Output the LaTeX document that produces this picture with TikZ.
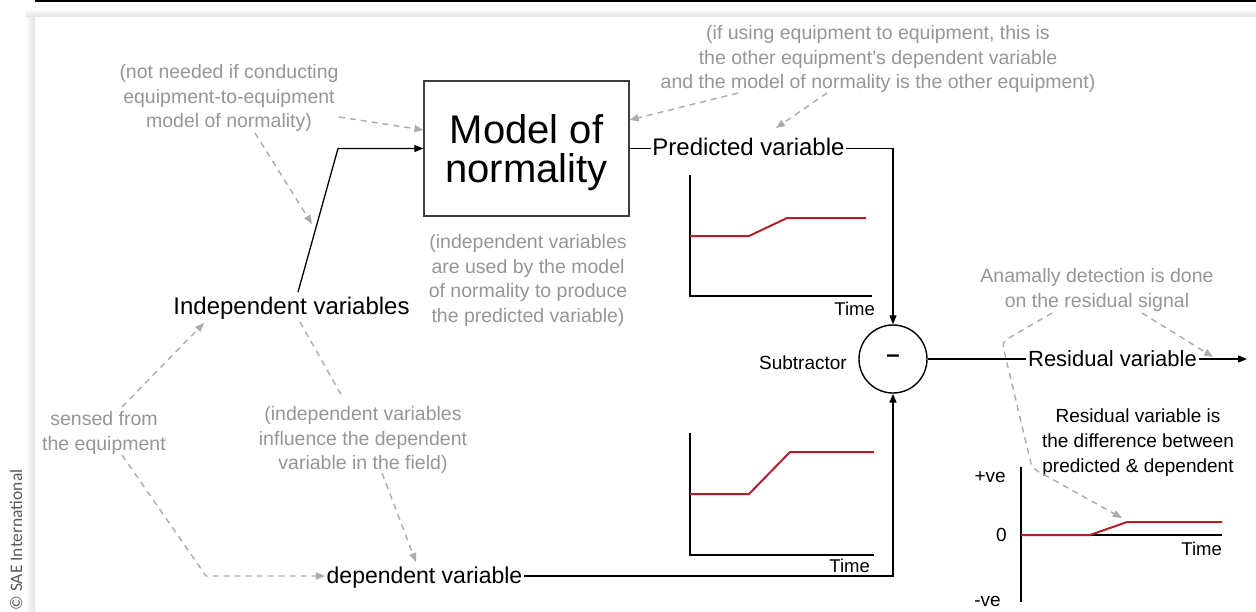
\documentclass[tikz,border=0pt]{standalone}
\usepackage{fontspec}
\setmainfont{Liberation Sans}
\newfontfamily\capfont{Carlito}
\usetikzlibrary{arrows.meta,calc}

\definecolor{notegray}{RGB}{150,150,150}
\definecolor{dashgray}{RGB}{172,172,172}
\definecolor{curvered}{RGB}{178,32,44}
\definecolor{boxline}{RGB}{60,60,60}

\newcommand\fsz[2]{\fontsize{#1}{#2}\selectfont}

\begin{document}
\begin{tikzpicture}[x=1pt,y=-1pt,
  label/.style={inner sep=1.5pt, text height=19pt, text depth=5pt, font=\fsz{24}{28}},
  note/.style={inner sep=0pt, align=center, text=notegray, font=\fsz{19.5}{24.7}, anchor=north},
  small/.style={inner sep=0pt, font=\fsz{19}{25}},
  timelbl/.style={inner sep=0pt, font=\fsz{18.5}{22}, anchor=base east},
  conn/.style={line width=1.3pt, black},
  arr/.style={conn, -{Triangle[length=9pt,width=7pt]}},
  hint/.style={line width=1.4pt, dashgray, dash pattern=on 6pt off 5pt},
  hintarr/.style={hint, -{Triangle[length=9pt,width=7pt]}},
  axis/.style={line width=2pt, black},
  signal/.style={line width=2pt, curvered, line join=round},
]
\useasboundingbox (0,0) rectangle (1256,611);

% page frame: rule at the top, panel with a soft shadow
\fill[white] (0,0) rectangle (1256,611);
\shade[top color=white, bottom color=black!12] (26,9) rectangle (1256,17);
\shade[left color=white, right color=black!12] (26,17) rectangle (35,611);
\fill[white] (35,17) rectangle (1256,611);
\draw[line width=2.2pt] (35,1.1) -- (1256,1.1);

\node[rotate=90, inner sep=0pt, font=\capfont\fsz{17.5}{20}, text=black!65] (copy) at (16,540) {© SAE International};

% main blocks
\node[draw=boxline, line width=1.2pt, minimum width=205pt, minimum height=135pt,
      inner sep=0pt, align=center, font=\fsz{40}{39}, text depth=0pt] (mon) at (526.5,148.5) {Model of\\normality};
\node[label] (iv) at (291.5,307.8) {Independent variables};
\node[label] (pv) at (748.5,148.5) {Predicted variable};
\node[label, font=\fsz{23}{28}] (dv) at (424.5,576) {dependent variable};
\node[label, font=\fsz{22}{26}] (rv) at (1112.5,359) {Residual variable};
\node[circle, draw, line width=1.4pt, minimum size=68pt, inner sep=0pt,
      font=\bfseries\fsz{24}{28}] (sub) at (893,359) {\textendash};
\node[small, anchor=east] (subl) at (847,363) {Subtractor};
\node[small, align=center, anchor=north, font=\fsz{19}{25}] (rvi) at (1138,409)
  {Residual variable is\\the difference between\\predicted \& dependent};

% grey notes
\node[note] (nn) at (229,64) {(not needed if conducting\\equipment-to-equipment\\model of normality)};
\node[note] (eq) at (878,25) {(if using equipment to equipment, this is\\the other equipment’s dependent variable\\and the model of normality is the other equipment)};
\node[note] (used) at (528,234) {(independent variables\\are used by the model\\of normality to produce\\the predicted variable)};
\node[note] (anom) at (1097,268.5) {Anamally detection is done\\on the residual signal};
\node[note] (sensed) at (104,411) {sensed from\\the equipment};
\node[note] (infl) at (363,406) {(independent variables\\influence the dependent\\variable in the field)};

% signal flow
\coordinate (bend) at (338,148.5);
\coordinate (out) at (1247,359);
\draw[arr] ([xshift=6.5pt,yshift=2pt]iv.north) -- (bend) -- (mon.west);
\draw[conn] (mon.east) -- (pv.west);
\draw[arr] (pv.east) -| (sub.north);
\draw[arr] (dv.east) -| (sub.south);
\draw[conn] (sub.east) -- (rv.west);
\draw[arr] (rv.east) -- (out);

% charts
\draw[axis] (690,175) -- (690,296) -- (872,296);
\draw[signal] (690,236) -- (749,236) -- (787,218) -- (866,218);
\node[timelbl] (t1) at (875,315) {Time};

\draw[axis] (690,433) -- (690,555) -- (874,555);
\draw[signal] (690,494) -- (749,494) -- (790,452) -- (874,452);
\node[timelbl] (t2) at (870,572) {Time};

\draw[axis] (1021,467) -- (1021,602);
\draw[axis] (1021,535) -- (1222,535);
\draw[signal] (1021,535) -- (1090,535) -- (1127,522) -- (1222,522);
\node[timelbl] (t3) at (1222,555) {Time};
\node[timelbl, font=\fsz{19}{22}] (pos) at (1006,482) {+ve};
\node[timelbl, font=\fsz{19}{22}] (zero) at (1007,541) {0};
\node[timelbl, font=\fsz{19}{22}] (neg) at (1001,606) {-ve};

% dashed annotation pointers
\coordinate (a1s) at (339,117);
\coordinate (a2s) at (255,133);
\coordinate (a2e) at (312,224);
\coordinate (a3s) at (738,93);
\coordinate (a4s) at (827,93);
\coordinate (a4e) at (776,128);
\coordinate (a5s) at (122,407);
\coordinate (a5e) at (204,323);
\coordinate (a6s) at (122,455);
\coordinate (a6b) at (206,576);
\coordinate (a7s) at (300,322);
\coordinate (a7m) at (343,398);
\coordinate (a7n) at (382,473);
\coordinate (a7e) at (416,562);
\coordinate (b1s) at (1052,313);
\coordinate (b1a) at (1002,342);
\coordinate (b1b) at (1032,468);
\coordinate (b1e) at (1122,518);
\coordinate (b2s) at (1142,313);
\coordinate (b2e) at (1213,357);

\draw[hintarr] (a1s) -- ([yshift=18.5pt]mon.west);
\draw[hintarr] (a2s) -- (a2e);
\draw[hintarr] (a3s) -- ([yshift=28.5pt]mon.east);
\draw[hintarr] (a4s) -- (a4e);
\draw[hintarr] (a5s) -- (a5e);
\draw[hintarr] (a6s) -- (a6b) -- (dv.west);
\draw[hint] (a7s) -- (a7m);
\draw[hintarr] (a7n) -- (a7e);
\draw[hintarr, rounded corners=6pt] (b1s) -- (b1a) -- (b1b) -- (b1e);
\draw[hintarr] (b2s) -- (b2e);
\end{tikzpicture}
\end{document}
